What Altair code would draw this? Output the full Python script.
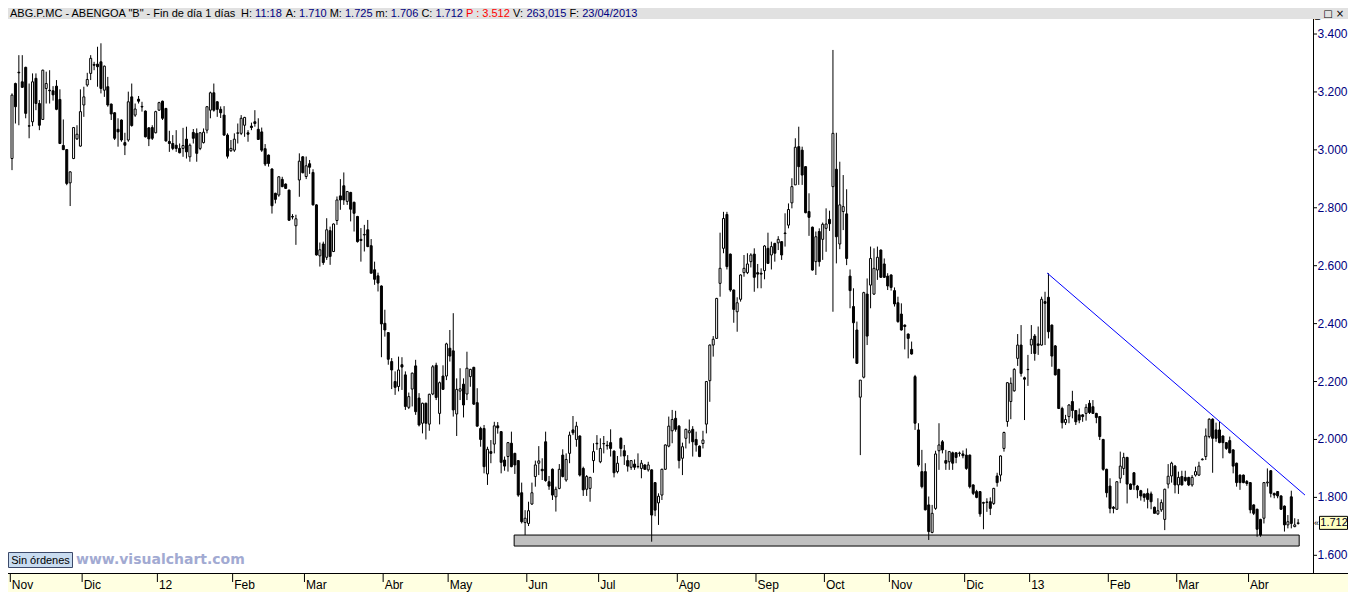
import altair as alt
import pandas as pd

# ---------------- data (daily OHLC, ABG.P.MC, Nov 2011 - 23 Apr 2013) ----------------
opens = [
 2.970, 3.229, 3.268, 3.235, 3.285, 3.083, 3.097, 3.247, 3.160, 3.105,
 3.212, 3.206, 3.204, 3.220, 3.174, 3.015, 3.001, 2.886, 2.970, 3.038,
 3.013, 3.155, 3.224, 3.264, 3.295, 3.296, 3.304, 3.206, 3.218, 3.158,
 3.128, 3.071, 3.103, 3.025, 3.034, 3.183, 3.120, 3.175, 3.150, 3.134,
 3.076, 3.077, 3.059, 3.137, 3.168, 3.143, 3.029, 3.022, 3.016, 3.005,
 3.005, 3.037, 2.976, 3.060, 3.057, 3.005, 3.025, 3.068, 3.137, 3.197,
 3.166, 3.140, 3.120, 3.051, 2.997, 2.999, 3.057, 3.057, 3.085, 3.059,
 3.082, 3.097, 3.071, 3.062, 3.004, 2.982, 2.934, 2.850, 2.844, 2.898,
 2.882, 2.861, 2.770, 2.738, 2.896, 2.976, 2.908, 2.952, 2.922, 2.810,
 2.634, 2.675, 2.629, 2.721, 2.649, 2.756, 2.841, 2.876, 2.822, 2.853,
 2.819, 2.770, 2.691, 2.706, 2.724, 2.669, 2.586, 2.565, 2.530, 2.401,
 2.369, 2.269, 2.200, 2.183, 2.258, 2.223, 2.111, 2.174, 2.254, 2.143,
 2.056, 2.125, 2.053, 2.157, 2.256, 2.090, 2.219, 2.219, 2.315, 2.306,
 2.088, 2.167, 2.191, 2.157, 2.217, 2.249, 2.127, 2.038, 2.038, 1.881,
 1.958, 1.984, 2.047, 2.027, 1.929, 1.941, 1.987, 1.952, 1.927, 1.816,
 1.713, 1.710, 1.777, 1.872, 1.918, 1.897, 1.992, 1.854, 1.897, 1.802,
 1.831, 1.946, 1.860, 1.952, 2.033, 2.000, 2.012, 1.900, 1.828, 1.831,
 1.927, 1.987, 1.923, 1.985, 1.980, 1.989, 1.960, 1.889, 2.004, 1.961,
 1.927, 1.904, 1.915, 1.907, 1.900, 1.912, 1.895, 1.895, 1.851, 1.781,
 1.808, 1.897, 1.977, 2.030, 2.073, 2.046, 1.935, 2.004, 2.023, 2.035,
 2.000, 1.977, 1.986, 2.053, 2.203, 2.326, 2.349, 2.539, 2.660, 2.777,
 2.640, 2.516, 2.441, 2.484, 2.576, 2.576, 2.614, 2.640, 2.576, 2.574,
 2.583, 2.660, 2.637, 2.677, 2.679, 2.683, 2.713, 2.740, 2.817, 2.879,
 3.011, 2.999, 2.942, 2.787, 2.733, 2.614, 2.718, 2.691, 2.729, 2.760, 2.873,
 2.933, 2.675, 2.787, 2.779, 2.564, 2.459, 2.378, 2.146, 2.215, 2.502,
 2.533, 2.502, 2.585, 2.654, 2.606, 2.564, 2.568, 2.514, 2.472, 2.433,
 2.395, 2.364, 2.311, 2.217, 2.033, 1.889, 1.889, 1.774, 1.679, 1.762,
 1.961, 1.992, 1.927, 1.923, 1.954, 1.954, 1.953, 1.950, 1.946, 1.946,
 1.843, 1.820, 1.820, 1.782, 1.784, 1.785, 1.779, 1.874, 1.877, 1.969,
 2.062, 2.131, 2.168, 2.280, 2.326, 2.213, 2.242, 2.326, 2.357, 2.330,
 2.326, 2.476, 2.491, 2.395, 2.323, 2.242, 2.107, 2.058, 2.079, 2.131,
 2.100, 2.085, 2.085, 2.090, 2.125, 2.113, 2.090, 2.079, 2.000,
 1.897, 1.839, 1.766, 1.759, 1.866, 1.900, 1.938, 1.846, 1.885, 1.839,
 1.823, 1.812, 1.814, 1.812, 1.766, 1.743, 1.757, 1.724, 1.846, 1.874,
 1.908, 1.843, 1.872, 1.869, 1.869, 1.843, 1.877, 1.877, 1.930, 1.941,
 2.010, 2.070, 2.033, 2.033, 2.012, 1.989, 1.996, 1.964, 1.918, 1.877,
 1.877, 1.855, 1.851, 1.774, 1.759, 1.724, 1.728, 1.850, 1.892, 1.814,
 1.820, 1.805, 1.770, 1.705, 1.802, 1.699, 1.710,
]
highs = [
 3.195, 3.232, 3.327, 3.327, 3.287, 3.229, 3.264, 3.264, 3.172, 3.277,
 3.270, 3.275, 3.220, 3.241, 3.209, 3.105, 3.003, 2.926, 3.079, 3.085,
 3.209, 3.218, 3.266, 3.327, 3.304, 3.356, 3.368, 3.291, 3.252, 3.160,
 3.130, 3.109, 3.105, 3.059, 3.201, 3.229, 3.160, 3.186, 3.166, 3.136,
 3.078, 3.085, 3.135, 3.166, 3.170, 3.145, 3.066, 3.051, 3.068, 3.022,
 3.076, 3.080, 3.022, 3.072, 3.074, 3.061, 3.074, 3.151, 3.201, 3.229,
 3.168, 3.150, 3.151, 3.057, 3.034, 3.057, 3.091, 3.120, 3.114, 3.068,
 3.094, 3.137, 3.109, 3.077, 3.020, 2.984, 2.936, 2.852, 2.909, 2.907,
 2.884, 2.863, 2.778, 2.776, 2.988, 2.978, 2.977, 2.965, 2.933, 2.812,
 2.680, 2.683, 2.764, 2.735, 2.746, 2.839, 2.899, 2.922, 2.858, 2.855,
 2.821, 2.772, 2.730, 2.741, 2.758, 2.692, 2.614, 2.576, 2.532, 2.448,
 2.371, 2.281, 2.235, 2.286, 2.284, 2.235, 2.162, 2.231, 2.275, 2.160,
 2.127, 2.127, 2.158, 2.257, 2.265, 2.200, 2.256, 2.334, 2.378, 2.436,
 2.211, 2.246, 2.211, 2.303, 2.244, 2.251, 2.177, 2.044, 2.050, 1.975,
 1.998, 2.061, 2.060, 2.029, 1.941, 1.991, 2.027, 1.954, 1.929, 1.851,
 1.756, 1.785, 1.851, 1.927, 1.977, 1.935, 2.027, 1.874, 1.900, 1.837,
 1.915, 1.966, 1.952, 2.027, 2.081, 2.061, 2.014, 1.906, 1.877, 1.871,
 1.987, 2.015, 2.004, 2.012, 1.995, 2.035, 1.962, 1.943, 2.007, 1.981,
 1.946, 1.929, 1.931, 1.952, 1.929, 1.914, 1.923, 1.897, 1.853, 1.814,
 1.899, 1.983, 2.079, 2.102, 2.099, 2.050, 1.989, 2.037, 2.069, 2.046,
 2.027, 1.979, 2.030, 2.202, 2.328, 2.357, 2.489, 2.714, 2.786, 2.786,
 2.642, 2.518, 2.491, 2.570, 2.637, 2.643, 2.643, 2.660, 2.606, 2.591,
 2.671, 2.714, 2.683, 2.679, 2.702, 2.685, 2.781, 2.815, 2.902, 3.040,
 3.080, 3.011, 2.944, 2.850, 2.735, 2.718, 2.729, 2.749, 2.798, 2.790, 3.345,
 3.059, 2.959, 2.913, 2.864, 2.587, 2.522, 2.407, 2.205, 2.510, 2.556,
 2.666, 2.660, 2.666, 2.656, 2.625, 2.574, 2.570, 2.525, 2.493, 2.470,
 2.397, 2.366, 2.338, 2.223, 2.056, 1.964, 1.918, 1.803, 1.774, 1.961,
 2.056, 1.998, 1.964, 1.960, 1.958, 1.956, 1.958, 1.962, 1.969, 1.948,
 1.845, 1.826, 1.822, 1.785, 1.797, 1.800, 1.833, 1.885, 1.945, 2.027,
 2.198, 2.214, 2.246, 2.364, 2.395, 2.217, 2.292, 2.395, 2.364, 2.390,
 2.493, 2.510, 2.574, 2.397, 2.326, 2.244, 2.113, 2.085, 2.122, 2.168,
 2.102, 2.107, 2.087, 2.122, 2.136, 2.136, 2.092, 2.081, 2.002,
 1.899, 1.866, 1.770, 1.856, 1.958, 1.954, 1.940, 1.848, 1.887, 1.843,
 1.826, 1.812, 1.831, 1.820, 1.768, 1.797, 1.793, 1.830, 1.915, 1.923,
 1.912, 1.889, 1.892, 1.892, 1.871, 1.877, 1.906, 1.923, 1.935, 2.038,
 2.073, 2.073, 2.058, 2.061, 2.014, 1.991, 2.010, 1.966, 1.920, 1.879,
 1.879, 1.860, 1.853, 1.776, 1.761, 1.726, 1.853, 1.900, 1.894, 1.816,
 1.822, 1.807, 1.772, 1.739, 1.823, 1.728, 1.725,
]
lows = [
 2.930, 3.091, 3.085, 3.214, 3.109, 3.040, 3.082, 3.137, 3.068, 3.103,
 3.160, 3.160, 3.170, 3.137, 3.020, 2.999, 2.878, 2.806, 2.968, 3.034,
 3.011, 3.114, 3.218, 3.241, 3.275, 3.218, 3.195, 3.183, 3.149, 3.103,
 3.034, 3.011, 3.028, 2.982, 3.028, 3.080, 3.114, 3.160, 3.132, 3.043,
 3.013, 3.034, 3.057, 3.135, 3.103, 3.028, 2.993, 2.999, 2.993, 2.988,
 2.976, 2.970, 2.959, 3.022, 2.959, 2.999, 3.022, 3.057, 3.109, 3.132,
 3.114, 3.110, 3.049, 2.970, 2.993, 2.993, 3.022, 3.051, 3.045, 3.028,
 3.068, 3.080, 3.034, 2.993, 2.944, 2.942, 2.780, 2.815, 2.838, 2.871,
 2.865, 2.755, 2.760, 2.672, 2.838, 2.919, 2.899, 2.917, 2.808, 2.635,
 2.597, 2.603, 2.620, 2.603, 2.647, 2.741, 2.793, 2.810, 2.810, 2.753,
 2.718, 2.680, 2.614, 2.649, 2.664, 2.574, 2.534, 2.511, 2.284, 2.355,
 2.258, 2.174, 2.154, 2.166, 2.171, 2.102, 2.105, 2.114, 2.085, 2.045,
 2.021, 2.000, 2.030, 2.153, 2.136, 2.052, 2.171, 2.205, 2.269, 2.079,
 2.012, 2.136, 2.076, 2.136, 2.182, 2.119, 2.044, 1.975, 1.883, 1.843,
 1.918, 1.952, 2.020, 1.883, 1.892, 1.889, 1.904, 1.881, 1.802, 1.710,
 1.670, 1.701, 1.774, 1.837, 1.877, 1.860, 1.854, 1.826, 1.791, 1.751,
 1.828, 1.869, 1.854, 1.918, 2.015, 1.975, 1.872, 1.805, 1.805, 1.785,
 1.885, 1.964, 1.918, 1.952, 1.965, 1.941, 1.869, 1.883, 1.941, 1.912,
 1.889, 1.895, 1.895, 1.900, 1.866, 1.895, 1.889, 1.647, 1.735, 1.705,
 1.791, 1.895, 1.973, 1.987, 2.027, 1.900, 1.877, 1.969, 1.986, 1.941,
 1.958, 1.939, 1.969, 2.021, 2.130, 2.286, 2.347, 2.493, 2.643, 2.587,
 2.510, 2.403, 2.372, 2.476, 2.562, 2.571, 2.594, 2.510, 2.522, 2.522,
 2.553, 2.606, 2.587, 2.614, 2.654, 2.620, 2.666, 2.729, 2.798, 2.879,
 2.879, 2.879, 2.781, 2.703, 2.583, 2.568, 2.597, 2.620, 2.648, 2.720, 2.441,
 2.608, 2.657, 2.723, 2.602, 2.453, 2.280, 2.261, 1.946, 2.211, 2.326,
 2.453, 2.499, 2.551, 2.558, 2.558, 2.516, 2.514, 2.459, 2.403, 2.376,
 2.311, 2.280, 2.293, 2.033, 1.906, 1.831, 1.755, 1.653, 1.676, 1.757,
 1.895, 1.952, 1.895, 1.895, 1.895, 1.918, 1.941, 1.935, 1.895, 1.831,
 1.808, 1.797, 1.733, 1.690, 1.750, 1.739, 1.774, 1.837, 1.855, 1.958,
 2.044, 2.070, 2.165, 2.254, 2.217, 2.067, 2.185, 2.295, 2.272, 2.292,
 2.324, 2.326, 2.349, 2.251, 2.221, 2.105, 2.038, 2.050, 2.056, 2.073,
 2.050, 2.056, 2.061, 2.065, 2.088, 2.088, 2.056, 1.998, 1.892,
 1.800, 1.745, 1.745, 1.757, 1.849, 1.877, 1.779, 1.826, 1.826, 1.797,
 1.789, 1.785, 1.762, 1.759, 1.745, 1.739, 1.750, 1.687, 1.831, 1.851,
 1.814, 1.812, 1.841, 1.854, 1.839, 1.837, 1.872, 1.874, 1.928, 1.929,
 2.004, 1.885, 1.992, 1.987, 1.935, 1.964, 1.952, 1.883, 1.837, 1.826,
 1.849, 1.840, 1.745, 1.739, 1.664, 1.664, 1.710, 1.837, 1.800, 1.797,
 1.797, 1.757, 1.682, 1.693, 1.693, 1.697, 1.706,
]
closes = [
 3.189, 3.149, 3.266, 3.216, 3.126, 3.082, 3.235, 3.160, 3.085, 3.275,
 3.229, 3.204, 3.190, 3.140, 3.022, 3.001, 2.884, 2.924, 3.077, 3.054,
 3.132, 3.183, 3.243, 3.316, 3.292, 3.287, 3.212, 3.289, 3.155, 3.124,
 3.040, 3.062, 3.034, 3.016, 3.166, 3.084, 3.141, 3.168, 3.148, 3.045,
 3.038, 3.040, 3.132, 3.163, 3.109, 3.031, 3.022, 3.005, 3.005, 2.990,
 3.015, 2.993, 3.016, 3.040, 2.988, 3.059, 3.061, 3.149, 3.197, 3.137,
 3.140, 3.128, 3.051, 2.978, 3.005, 3.037, 3.059, 3.109, 3.112, 3.054,
 3.077, 3.091, 3.036, 2.999, 2.951, 2.953, 2.807, 2.829, 2.907, 2.873,
 2.867, 2.757, 2.768, 2.762, 2.961, 2.921, 2.945, 2.940, 2.810, 2.637,
 2.655, 2.611, 2.724, 2.632, 2.744, 2.827, 2.827, 2.827, 2.856, 2.795,
 2.781, 2.683, 2.687, 2.708, 2.666, 2.574, 2.553, 2.540, 2.399, 2.378,
 2.277, 2.240, 2.180, 2.240, 2.250, 2.114, 2.148, 2.229, 2.096, 2.050,
 2.125, 2.056, 2.156, 2.251, 2.145, 2.196, 2.173, 2.330, 2.288, 2.102,
 2.173, 2.175, 2.119, 2.246, 2.242, 2.122, 2.046, 2.000, 1.906, 1.966,
 1.952, 2.047, 2.040, 1.921, 1.908, 1.989, 1.906, 1.912, 1.808, 1.716,
 1.728, 1.754, 1.816, 1.912, 1.926, 1.892, 1.858, 1.839, 1.808, 1.828,
 1.897, 1.872, 1.931, 2.015, 2.023, 2.046, 1.877, 1.826, 1.872, 1.869,
 1.958, 1.985, 1.969, 1.986, 1.978, 1.969, 1.885, 1.918, 1.969, 1.943,
 1.908, 1.927, 1.904, 1.906, 1.918, 1.897, 1.912, 1.739, 1.756, 1.804,
 1.897, 1.981, 2.046, 2.069, 2.035, 1.927, 1.975, 2.035, 2.030, 1.992,
 1.981, 1.941, 1.998, 2.200, 2.326, 2.346, 2.487, 2.591, 2.763, 2.597,
 2.516, 2.449, 2.472, 2.568, 2.591, 2.606, 2.637, 2.560, 2.571, 2.571,
 2.668, 2.608, 2.666, 2.643, 2.691, 2.637, 2.711, 2.794, 2.873, 3.009,
 2.942, 2.913, 2.783, 2.767, 2.585, 2.700, 2.614, 2.743, 2.744, 2.745, 3.057,
 2.700, 2.810, 2.804, 2.625, 2.514, 2.403, 2.263, 2.205, 2.507, 2.357,
 2.625, 2.591, 2.629, 2.560, 2.560, 2.530, 2.525, 2.468, 2.407, 2.378,
 2.390, 2.349, 2.295, 2.056, 1.912, 1.837, 1.757, 1.682, 1.745, 1.950,
 1.981, 1.964, 1.918, 1.958, 1.918, 1.938, 1.952, 1.944, 1.900, 1.837,
 1.814, 1.800, 1.743, 1.780, 1.783, 1.762, 1.831, 1.851, 1.943, 2.024,
 2.196, 2.194, 2.242, 2.326, 2.228, 2.208, 2.241, 2.346, 2.297, 2.325,
 2.484, 2.470, 2.372, 2.288, 2.223, 2.107, 2.058, 2.069, 2.119, 2.100,
 2.061, 2.067, 2.079, 2.111, 2.093, 2.090, 2.076, 2.010, 1.897,
 1.816, 1.762, 1.762, 1.854, 1.908, 1.938, 1.846, 1.828, 1.843, 1.826,
 1.805, 1.800, 1.793, 1.785, 1.745, 1.754, 1.782, 1.828, 1.873, 1.918,
 1.843, 1.869, 1.843, 1.858, 1.843, 1.869, 1.889, 1.908, 1.932, 2.012,
 2.070, 2.004, 2.004, 1.989, 1.989, 1.969, 1.954, 1.908, 1.851, 1.851,
 1.851, 1.848, 1.757, 1.745, 1.690, 1.670, 1.851, 1.853, 1.814, 1.808,
 1.805, 1.759, 1.705, 1.716, 1.710, 1.705, 1.712,
]

month_labels = ["Nov", "Dic", "12", "Feb", "Mar", "Abr", "May", "Jun", "Jul",
                "Ago", "Sep", "Oct", "Nov", "Dic", "13", "Feb", "Mar", "Abr"]
month_first_day = [0, 21, 43, 65, 86, 109, 128, 151, 172,
                   195, 218, 238, 257, 279, 298, 321, 341, 362]
price_ticks = [1.6, 1.8, 2.0, 2.2, 2.4, 2.6, 2.8, 3.0, 3.2, 3.4]

support_days = [146.8, 376.3]
support_prices = [1.632, 1.670]
trend_days = [302.6, 378.0]
trend_prices = [2.575, 1.808]
last_price = 1.712

header_texts = ['ABG.P.MC - ABENGOA "B" - Fin de día 1 días', "H:", "11:18", "A:", "1.710",
                "M:", "1.725", "m:", "1.706", "C:", "1.712", "P : 3.512", "V:", "263,015",
                "F:", "23/04/2013"]
header_kinds = ["label", "label", "value", "label", "value", "label", "value", "label", "value",
                "label", "value", "alert", "label", "value", "label", "value"]

# ---------------- layout ----------------
W, H = 1305, 553          # plot area
TOTAL_W = 1340            # whole canvas (fits the page width)
FONT = "Liberation Sans"
NAVY = "#000080"
header_x = [2.0, 233.0, 247.1, 277.7, 291.1, 321.7, 337.0, 367.5, 382.8,
            413.4, 427.4, 458.0, 505.1, 518.5, 561.4, 574.2]
kind_color = {"label": "#000000", "value": NAVY, "alert": "#FF0000"}

n = min(len(opens), len(highs), len(lows), len(closes))
df = pd.DataFrame({"day": list(range(n)), "open": opens[:n], "high": highs[:n],
                   "low": lows[:n], "close": closes[:n]})

xs = alt.Scale(domain=[0.29, 378.88], nice=False, zero=False)
ys = alt.Scale(domain=[1.5389, 3.4484], nice=False, zero=False)
one = pd.DataFrame({"a": [0]})

layers = []

# header bar
layers.append(alt.Chart(one).mark_rect(fill="#E1E1E1").encode(
    x=alt.value(0), x2=alt.value(TOTAL_W), y=alt.value(-12), y2=alt.value(-1)))
for t, k, px in zip(header_texts, header_kinds, header_x):
    layers.append(alt.Chart(pd.DataFrame({"t": [t]})).mark_text(
        align="left", baseline="alphabetic", font=FONT, fontSize=11, color=kind_color[k]
    ).encode(x=alt.value(px), y=alt.value(-3), text="t:N"))
layers.append(alt.Chart(pd.DataFrame({"t": ["_ □ ×"]})).mark_text(
    align="left", baseline="alphabetic", font="DejaVu Sans", fontSize=10, color="#000000"
).encode(x=alt.value(1307), y=alt.value(-3), text="t:N"))

# support zone
zone = pd.DataFrame({"d0": [support_days[0]], "d1": [support_days[1]],
                     "p0": [support_prices[0]], "p1": [support_prices[1]]})
layers.append(alt.Chart(zone).mark_rect(fill="#C0C0C0", stroke="#000000", strokeWidth=1).encode(
    x=alt.X("d0:Q", scale=xs, axis=None), x2="d1:Q",
    y=alt.Y("p0:Q", scale=ys, axis=None), y2="p1:Q"))

# candles
base = alt.Chart(df)
layers.append(base.mark_rule(color="#000000", strokeWidth=1).encode(
    x=alt.X("day:Q", scale=xs, axis=None),
    y=alt.Y("low:Q", scale=ys, axis=None), y2="high:Q"))
layers.append(base.mark_bar(size=2, stroke="#000000", strokeWidth=1).encode(
    x=alt.X("day:Q", scale=xs, axis=None),
    y=alt.Y("open:Q", scale=ys, axis=None), y2="close:Q",
    fill=alt.when(alt.datum.close >= alt.datum.open).then(alt.value("#FFFFFF")).otherwise(alt.value("#000000"))))

# trend line
trend = pd.DataFrame({"d0": [trend_days[0]], "d1": [trend_days[1]],
                      "p0": [trend_prices[0]], "p1": [trend_prices[1]]})
layers.append(alt.Chart(trend).mark_rule(color="#0000FF", strokeWidth=1).encode(
    x=alt.X("d0:Q", scale=xs, axis=None), x2="d1:Q",
    y=alt.Y("p0:Q", scale=ys, axis=None), y2="p1:Q"))

# right price axis
layers.append(alt.Chart(one).mark_rule(color="#000000", strokeWidth=1).encode(
    x=alt.value(1305.5), y=alt.value(-1), y2=alt.value(553)))
ticks = pd.DataFrame({"p": price_ticks})
layers.append(alt.Chart(ticks).mark_rule(color="#000000", strokeWidth=1).encode(
    y=alt.Y("p:Q", scale=ys, axis=None), x=alt.value(1305), x2=alt.value(1309)))
layers.append(alt.Chart(ticks).mark_text(
    align="left", baseline="middle", font=FONT, fontSize=12, color=NAVY).encode(
    y=alt.Y("p:Q", scale=ys, axis=None), x=alt.value(1309.5),
    text=alt.Text("p:Q", format=".3f")))

# last price marker
lp = pd.DataFrame({"p": [last_price]})
layers.append(alt.Chart(lp).transform_calculate(
    top="datum.p + 0.0225", bot="datum.p - 0.0225").mark_rect(
    fill="#FFFFC0", stroke="#000000", strokeWidth=1).encode(
    x=alt.value(1311.5), x2=alt.value(1339.5),
    y=alt.Y("top:Q", scale=ys, axis=None), y2="bot:Q"))
layers.append(alt.Chart(lp).mark_text(
    align="left", baseline="middle", font=FONT, fontSize=11, color="#000020").encode(
    y=alt.Y("p:Q", scale=ys, axis=None), x=alt.value(1312.3),
    text=alt.Text("p:Q", format=".3f")))
layers.append(alt.Chart(lp).transform_calculate(t="'«'").mark_text(
    align="left", baseline="middle", font=FONT, fontSize=9, color="#000000").encode(
    y=alt.Y("p:Q", scale=ys, axis=None), x=alt.value(1306), text="t:N"))

# bottom time strip
layers.append(alt.Chart(one).mark_rect(fill="#FFFFE1").encode(
    x=alt.value(0), x2=alt.value(TOTAL_W), y=alt.value(553.5), y2=alt.value(572)))
layers.append(alt.Chart(one).mark_rule(color="#000000", strokeWidth=1).encode(
    x=alt.value(0), x2=alt.value(TOTAL_W), y=alt.value(553.5)))
months = pd.DataFrame({"first": month_first_day, "label": month_labels})
layers.append(alt.Chart(months).transform_calculate(tick="datum.first - 0.5").mark_rule(
    color="#000000", strokeWidth=1).encode(
    x=alt.X("tick:Q", scale=xs, axis=None), y=alt.value(554), y2=alt.value(562)))
layers.append(alt.Chart(months).transform_calculate(tick="datum.first - 0.5").mark_text(
    align="left", baseline="alphabetic", dx=1.5,
    font="Liberation Sans Narrow, Liberation Sans, sans-serif", fontSize=12, color="#000000").encode(
    x=alt.X("tick:Q", scale=xs, axis=None), y=alt.value(569), text="label:N"))

# "Sin órdenes" button and watermark
layers.append(alt.Chart(one).mark_rect(fill="#C9DCF0", stroke="#3C4A6B", strokeWidth=1).encode(
    x=alt.value(0.5), x2=alt.value(64.5), y=alt.value(532.5), y2=alt.value(547.5)))
layers.append(alt.Chart(pd.DataFrame({"t": ["Sin órdenes"]})).mark_text(
    align="center", baseline="middle", font=FONT, fontSize=11, color="#000000").encode(
    x=alt.value(32.5), y=alt.value(540.5), text="t:N"))
layers.append(alt.Chart(pd.DataFrame({"t": ["www.visualchart.com"]})).mark_text(
    align="left", baseline="alphabetic", font="DejaVu Sans", fontSize=14, fontWeight="bold",
    color="#A2AAD2").encode(x=alt.value(68), y=alt.value(544), text="t:N"))

chart = alt.layer(*layers).properties(
    width=W, height=H,
    padding={"left": 0, "top": 12, "right": TOTAL_W - W, "bottom": 19},
    autosize=alt.AutoSizeParams(type="none"),
    background="#FFFFFF",
).configure_view(stroke=None)

chart.save("out.html", embed_options={"renderer": "svg", "actions": False})
